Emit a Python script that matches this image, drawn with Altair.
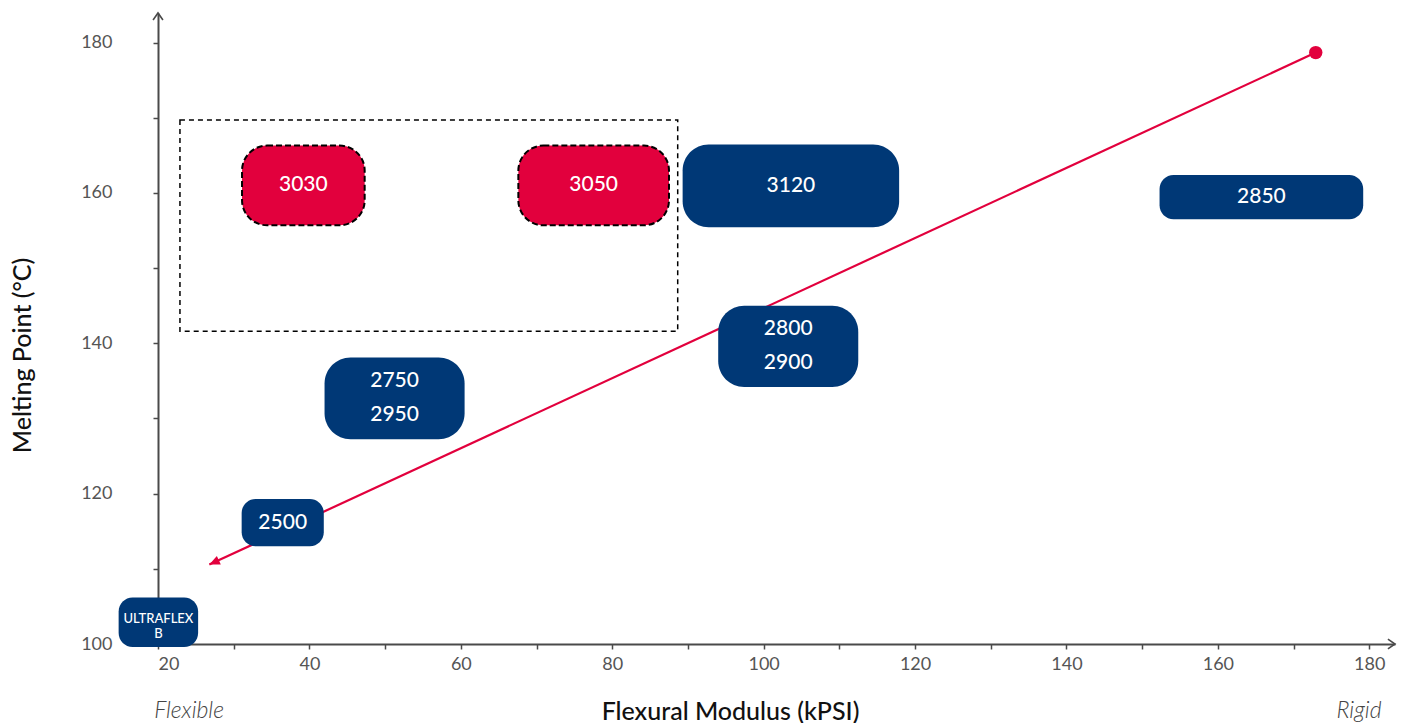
import altair as alt
import pandas as pd

# ---- data ----
names = ["3030", "3050", "3120", "2850", "2800\n2900", "2750\n2950", "2500", "ULTRAFLEX\nB"]
x0 = [31.1, 67.6, 89.3, 152.3, 94.0, 42.0, 31.05, 14.8]
x1 = [47.3, 87.5, 117.9, 179.2, 112.5, 60.5, 41.9, 25.3]
y0 = [155.7, 155.7, 155.45, 156.5, 134.2, 127.25, 113.0, 99.6]
y1 = [166.3, 166.3, 166.45, 162.4, 145.0, 138.1, 119.3, 106.2]
group = ["red", "red", "navy", "navy", "navy", "navy", "navy", "navy"]
shape = ["tall", "tall", "tall", "short", "tall", "tall", "short", "short"]
label_y = [(a + b) / 2 for a, b in zip(y0, y1)]
label_y[-1] = 102.3
label_kind = ["one", "one", "one", "one", "two", "two", "one", "small"]

trend_x = [26.78, 172.93]
trend_y = [110.56, 178.67]

frame_x = [22.9, 88.65]
frame_y = [141.6, 169.7]

ends_text = ["Flexible", "Rigid"]
ends_x = [24.1, 178.65]

x_ticks = list(range(20, 181, 10))
y_ticks = list(range(100, 181, 10))
X_MAX = 183.4
Y_MAX = 183.94

NAVY = "#003876"
RED = "#E2003D"
AXIS = "#4a4a4a"
FONT = "Lato"

boxes = pd.DataFrame({
    "name": names, "x0": x0, "x1": x1, "y0": y0, "y1": y1,
    "group": group, "shape": shape,
    "lx": [(a + b) / 2 for a, b in zip(x0, x1)], "ly": label_y, "kind": label_kind,
})
trend = pd.DataFrame({"x": trend_x, "y": trend_y})
frame = pd.DataFrame({"x0": [frame_x[0]], "x1": [frame_x[1]], "y0": [frame_y[0]], "y1": [frame_y[1]]})
ends = pd.DataFrame({"t": ends_text, "x": ends_x})

xs = alt.Scale(domain=[20, X_MAX], nice=False, zero=False)
ys = alt.Scale(domain=[100, Y_MAX], nice=False, zero=False)

x_axis = alt.Axis(
    values=x_ticks, labelExpr="datum.value % 20 == 0 ? datum.label : ''",
    grid=False, domainColor=AXIS, domainWidth=2, tickColor=AXIS, tickWidth=1.5, tickSize=5,
    labelColor="#555555", labelFont=FONT, labelFontSize=18, labelFontWeight=400, labelPadding=6,
    title="Flexural Modulus (kPSI)", titleFont=FONT, titleFontSize=25, titleFontWeight=500,
    titleColor="#111111", titleX=572, titleY=67, titleBaseline="middle", titleAnchor="middle",
)
y_axis = alt.Axis(
    values=y_ticks, labelExpr="datum.value % 20 == 0 ? datum.label : ''",
    grid=False, domainColor=AXIS, domainWidth=2, tickColor=AXIS, tickWidth=1.5, tickSize=5,
    labelColor="#555555", labelFont=FONT, labelFontSize=18, labelFontWeight=400, labelPadding=41,
    title="Melting Point (°C)", titleFont=FONT, titleFontSize=25, titleFontWeight=500,
    titleColor="#111111", titleX=-136, titleY=342, titleBaseline="middle", titleAngle=-90,
    titleAnchor="middle",
)


def X(field):
    return alt.X(field, type="quantitative", scale=xs, axis=x_axis)


def Y(field):
    return alt.Y(field, type="quantitative", scale=ys, axis=y_axis)


frame_layer = alt.Chart(frame).mark_rect(
    fill=None, fillOpacity=0, stroke="black", strokeWidth=1.5, strokeDash=[5, 4]
).encode(x=X("x0"), x2="x1:Q", y=Y("y0"), y2="y1:Q")

line_layer = alt.Chart(trend).mark_line(color=RED, strokeWidth=2.2).encode(x=X("x"), y=Y("y"))

dot_layer = alt.Chart(trend.iloc[[1]]).mark_point(
    filled=True, color=RED, size=180, opacity=1
).encode(x=X("x"), y=Y("y"))

head_layer = alt.Chart(trend.iloc[[0]]).mark_point(
    shape="M0,0L-1,-0.45L-1,0.45Z", filled=True, color=RED, size=440, angle=155.2, opacity=1
).encode(x=X("x"), y=Y("y"))

red_boxes = alt.Chart(boxes).transform_filter("datum.group == 'red'").mark_rect(
    fill=RED, stroke="black", strokeWidth=2, strokeDash=[6, 3], cornerRadius=25
).encode(x=X("x0"), x2="x1:Q", y=Y("y0"), y2="y1:Q")

tall_boxes = alt.Chart(boxes).transform_filter(
    "datum.group == 'navy' && datum.shape == 'tall'"
).mark_rect(fill=NAVY, cornerRadius=26).encode(x=X("x0"), x2="x1:Q", y=Y("y0"), y2="y1:Q")

short_boxes = alt.Chart(boxes).transform_filter(
    "datum.group == 'navy' && datum.shape == 'short'"
).mark_rect(fill=NAVY, cornerRadius=14).encode(x=X("x0"), x2="x1:Q", y=Y("y0"), y2="y1:Q")

one_text = alt.Chart(boxes).transform_filter("datum.kind == 'one'").mark_text(
    color="white", font=FONT, fontSize=21, fontWeight=500,
    align="center", baseline="middle"
).encode(x=X("lx"), y=Y("ly"), text="name:N")

two_text = alt.Chart(boxes).transform_filter("datum.kind == 'two'").mark_text(
    color="white", font=FONT, fontSize=21, fontWeight=500, lineBreak="\n", lineHeight=34,
    align="center", baseline="middle", dy=-17
).encode(x=X("lx"), y=Y("ly"), text="name:N")

small_text = alt.Chart(boxes).transform_filter("datum.kind == 'small'").mark_text(
    color="white", font=FONT, fontSize=13, fontWeight=500, lineBreak="\n", lineHeight=15,
    align="center", baseline="middle", dy=-7.5
).encode(x=X("lx"), y=Y("ly"), text="name:N")

x_arrow = alt.Chart(pd.DataFrame({"x": [X_MAX], "y": [100]})).mark_point(
    shape="M-1,-0.7L0,0L-1,0.7", filled=False, stroke=AXIS, strokeWidth=1.6, size=200, opacity=1
).encode(x=X("x"), y=Y("y"))

y_arrow = alt.Chart(pd.DataFrame({"x": [20], "y": [Y_MAX]})).mark_point(
    shape="M-0.7,1L0,0L0.7,1", filled=False, stroke=AXIS, strokeWidth=1.6, size=200, opacity=1
).encode(x=X("x"), y=Y("y"))

ends_layer = alt.Chart(ends).mark_text(
    font=FONT, fontSize=23, fontStyle="italic", fontWeight=300, color="#444444",
    align="center", baseline="middle"
).encode(x=X("x"), y=alt.value(698), text="t:N")

chart = alt.layer(
    frame_layer, line_layer, dot_layer, head_layer, red_boxes, tall_boxes, short_boxes,
    one_text, two_text, small_text, x_arrow, y_arrow, ends_layer
).properties(
    width=1237, height=631,
    background="white",
    autosize=alt.AutoSizeParams(type="none"),
    padding={"left": 158, "top": 13, "right": 9, "bottom": 79},
).configure_view(strokeWidth=0, stroke="transparent")

chart.save("out.html", embed_options={"renderer": "svg", "actions": False})
